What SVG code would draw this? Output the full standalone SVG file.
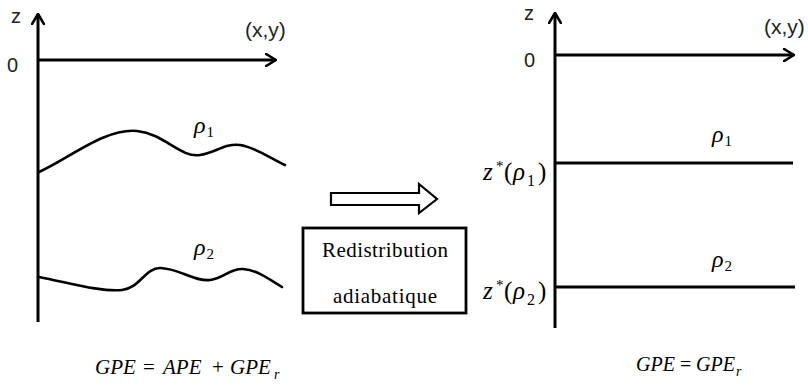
<svg xmlns="http://www.w3.org/2000/svg" width="808" height="387" viewBox="0 0 808 387">
<style>
.ax{stroke:#000;stroke-width:3;fill:none}
.cv{stroke:#000;stroke-width:2.6;fill:none;stroke-linecap:round}
.sf{font-family:'Liberation Serif','DejaVu Serif',serif}
.ss{font-family:'Liberation Sans','DejaVu Sans',sans-serif}
.it{font-style:italic}
</style>
<defs>
<marker id="open" viewBox="0 0 12 14" refX="11" refY="7" markerWidth="12" markerHeight="14" markerUnits="userSpaceOnUse" orient="auto">
<path d="M1,1 L11,7 L1,13" fill="none" stroke="#000" stroke-width="2.6" stroke-linecap="round" stroke-linejoin="round"/>
</marker>
</defs>
<g id="left-panel">
<line class="ax" x1="38" y1="322" x2="38" y2="14" marker-end="url(#open)"/>
<line class="ax" x1="38" y1="60" x2="276" y2="60" marker-end="url(#open)"/>
<g class="ss" font-size="20" fill="#222">
<text x="11" y="23">z</text>
<text x="7" y="72">0</text>
<text x="245" y="37" font-size="21">(x,y)</text>
</g>
<path class="cv" d="M39,172 C70,158 105,128 137,131 C165,134 180,158 200,155 C215,153 225,143 240,145 C255,147 270,158 285,165"/>
<path class="cv" d="M39,277 C70,283 100,292 122,290 C140,288 145,268 160,268 C178,268 195,282 210,280 C225,278 230,268 243,269 C258,270 270,280 282,287"/>
<g class="sf">
<text x="194" y="133" font-size="24" class="it">ρ<tspan font-size="15" font-style="normal" dx="1" dy="4">1</tspan></text>
<text x="194" y="255" font-size="24" class="it">ρ<tspan font-size="15" font-style="normal" dx="1" dy="4">2</tspan></text>
<text y="374" font-size="21"><tspan x="95" class="it">GPE</tspan><tspan x="143">=</tspan><tspan x="163" class="it">APE</tspan><tspan x="212">+</tspan><tspan x="230" class="it">GPE</tspan><tspan x="274" y="379" font-size="14" class="it">r</tspan></text>
</g>
</g>
<g id="transition">
<path d="M331,193 L419,193 L419,184 L437,199 L419,213 L419,205 L331,205 Z" fill="#fff" stroke="#000" stroke-width="2.2" stroke-linejoin="miter"/>
<rect x="303" y="228" width="163" height="85" fill="#fff" stroke="#000" stroke-width="2.8"/>
<g class="sf" font-size="21" fill="#000">
<text x="322" y="257" textLength="126" lengthAdjust="spacing">Redistribution</text>
<text x="333" y="303" textLength="104" lengthAdjust="spacing">adiabatique</text>
</g>
</g>
<g id="right-panel">
<line class="ax" x1="555" y1="328" x2="555" y2="13" marker-end="url(#open)"/>
<line class="ax" x1="555" y1="55" x2="794" y2="55" marker-end="url(#open)"/>
<line class="ax" x1="555" y1="163" x2="793" y2="163"/>
<line class="ax" x1="555" y1="287" x2="795" y2="287"/>
<g class="ss" font-size="20" fill="#222">
<text x="524" y="20">z</text>
<text x="524" y="67">0</text>
<text x="764" y="34" font-size="21">(x,y)</text>
</g>
<g class="sf" fill="#000">
<text x="712" y="142" font-size="24" class="it">ρ<tspan font-size="15" font-style="normal" dx="1" dy="4">1</tspan></text>
<text x="712" y="267" font-size="24" class="it">ρ<tspan font-size="15" font-style="normal" dx="1" dy="4">2</tspan></text>
<text y="180" font-size="25"><tspan x="483" class="it">z</tspan><tspan x="496" y="171" font-size="15">*</tspan><tspan x="504" y="180">(</tspan><tspan x="513" class="it">ρ</tspan><tspan x="527" y="186" font-size="16">1</tspan><tspan x="538" y="180">)</tspan></text>
<text y="299" font-size="25"><tspan x="483" class="it">z</tspan><tspan x="496" y="290" font-size="15">*</tspan><tspan x="504" y="299">(</tspan><tspan x="513" class="it">ρ</tspan><tspan x="527" y="305" font-size="16">2</tspan><tspan x="538" y="299">)</tspan></text>
<text y="371" font-size="20"><tspan x="636" class="it">GPE</tspan><tspan x="680">=</tspan><tspan x="696" class="it">GPE</tspan><tspan x="736" y="376" font-size="14" class="it">r</tspan></text>
</g>
</g>
</svg>
